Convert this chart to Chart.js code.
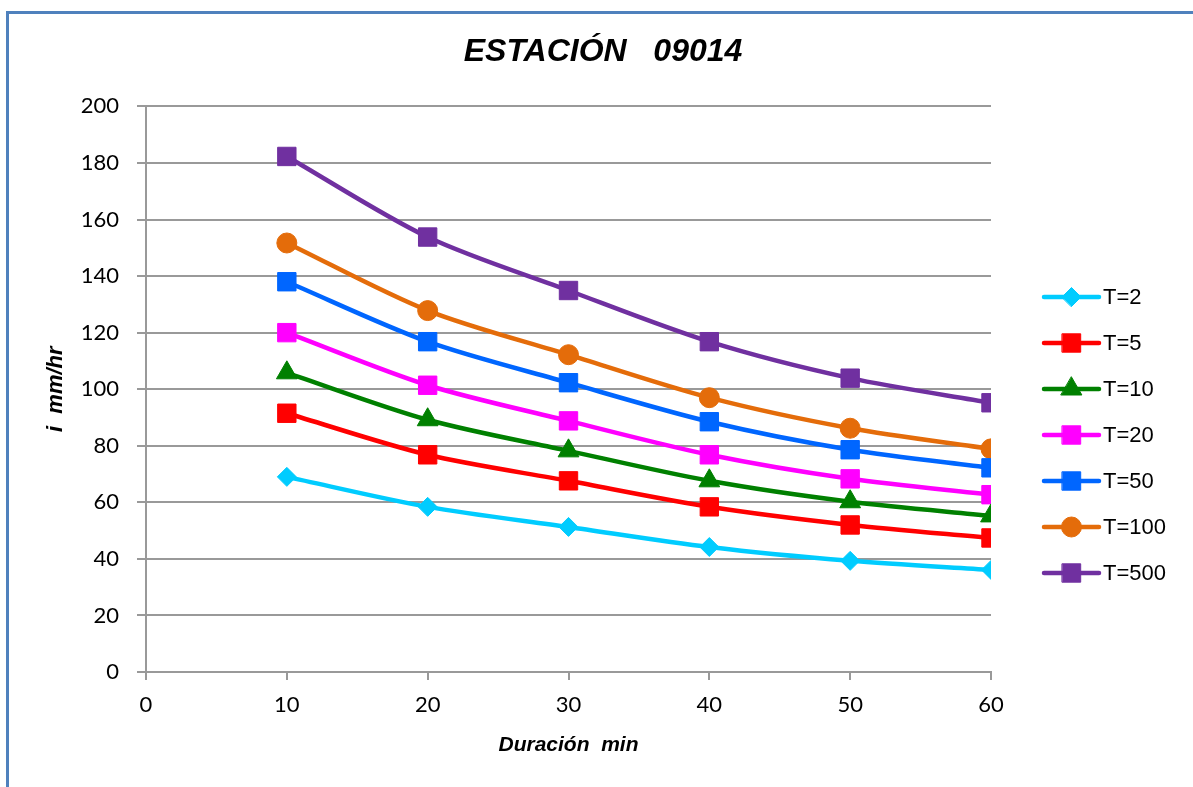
<!DOCTYPE html>
<html>

<head>
    <title>Estación 09014</title>
    <style>
        html,
        body {
            margin: 0;
            padding: 0;
            background-color: #fff;
        }

        #wrap {
            position: relative;
            width: 1193px;
            height: 787px;
            overflow: hidden;
        }

        #frame {
            position: absolute;
            left: 6px;
            top: 11px;
            width: 1400px;
            height: 1000px;
            border-left: 3px solid #4f81bd;
            border-top: 3px solid #4f81bd;
        }

        #chart {
            position: absolute;
            left: 0;
            top: 0;
        }
    </style>
</head>

<body>
    <div id="wrap">
        <div id="frame"></div>
        <canvas id="chart" width="1193" height="787"></canvas>
    </div>
    <script src="https://cdn.jsdelivr.net/npm/chart.js"></script>
    <script>
        const durations = [10, 20, 30, 40, 50, 60];

        const t2 = [69.0, 58.4, 51.3, 44.2, 39.3, 36.1];
        const t5 = [91.5, 76.8, 67.6, 58.4, 52.0, 47.4];
        const t10 = [105.8, 89.2, 78.2, 67.6, 60.2, 55.2];
        const t20 = [120.0, 101.4, 88.8, 76.8, 68.3, 62.7];
        const t50 = [138.0, 116.8, 102.3, 88.5, 78.6, 72.2];
        const t100 = [151.7, 127.8, 112.2, 97.0, 86.2, 78.9];
        const t500 = [182.3, 153.8, 134.9, 116.8, 103.9, 95.2];

        const seriesNames = ['T=2', 'T=5', 'T=10', 'T=20', 'T=50', 'T=100', 'T=500'];
        const seriesValues = [t2, t5, t10, t20, t50, t100, t500];
        const seriesColors = ['#00ccff', '#ff0000', '#008000', '#ff00ff', '#0066ff', '#e46c0a', '#7030a0'];
        const seriesMarkers = ['rectRot', 'rect', 'triangle', 'rect', 'rect', 'circle', 'rect'];

        const markerRadius = { rectRot: 9.5, rect: 13, triangle: 12, circle: 10 };

        const arial = "'Liberation Sans', Arial, sans-serif";

        const datasets = seriesNames.map((name, i) => ({
            label: name,
            data: durations.map((d, j) => ({ x: d, y: seriesValues[i][j] })),
            borderColor: seriesColors[i],
            backgroundColor: seriesColors[i],
            borderWidth: 4.5,
            pointStyle: seriesMarkers[i],
            pointRadius: markerRadius[seriesMarkers[i]],
            pointBorderWidth: 1,
            tension: 0.3,
        }));

        // legend drawn as line + marker, like the spreadsheet one
        const lineLegend = {
            id: 'lineLegend',
            afterDraw(chart) {
                const ctx = chart.ctx;
                const x0 = 1044, x1 = 1099, top = 297, step = 46;
                chart.data.datasets.forEach((ds, i) => {
                    const y = top + i * step;
                    ctx.save();
                    ctx.strokeStyle = ds.borderColor;
                    ctx.lineWidth = ds.borderWidth;
                    ctx.lineCap = 'round';
                    ctx.beginPath();
                    ctx.moveTo(x0, y);
                    ctx.lineTo(x1, y);
                    ctx.stroke();
                    ctx.fillStyle = ds.backgroundColor;
                    ctx.lineWidth = 1;
                    Chart.helpers.drawPoint(ctx, {
                        pointStyle: ds.pointStyle,
                        radius: ds.pointRadius,
                        rotation: 0,
                        borderWidth: 1,
                    }, (x0 + x1) / 2, y);
                    ctx.fillStyle = '#000';
                    ctx.font = `22px ${arial}`;
                    ctx.textBaseline = 'middle';
                    ctx.textAlign = 'left';
                    ctx.fillText(ds.label, x1 + 4, y + 1);
                    ctx.restore();
                });
            }
        };

        new Chart(document.getElementById('chart'), {
            type: 'line',
            data: { datasets },
            options: {
                responsive: false,
                animation: false,
                layout: { padding: { left: 13, top: 0, right: 0, bottom: 0 } },
                plugins: {
                    legend: { display: false },
                    tooltip: { enabled: false },
                    title: {
                        display: true,
                        text: 'ESTACIÓN   09014',
                        color: '#000',
                        font: { family: arial, size: 32, weight: 'bold', style: 'italic' },
                        padding: { top: 33, bottom: 35 },
                    },
                },
                scales: {
                    x: {
                        type: 'linear',
                        min: 0,
                        max: 60,
                        ticks: {
                            stepSize: 10,
                            color: '#000',
                            padding: 12,
                            font: { family: 'Lato', size: 22 },
                        },
                        grid: {
                            drawOnChartArea: false,
                            color: '#999',
                            lineWidth: 2,
                            tickLength: 8,
                        },
                        border: { color: '#999', width: 2 },
                        title: {
                            display: true,
                            text: 'Duración  min',
                            color: '#000',
                            font: { family: arial, size: 21, weight: 'bold', style: 'italic' },
                            padding: { top: 0, bottom: 29 },
                        },
                        afterFit(scale) { scale.height = 115; },
                    },
                    y: {
                        min: 0,
                        max: 200,
                        ticks: {
                            stepSize: 20,
                            color: '#000',
                            padding: 18,
                            font: { family: 'Lato', size: 22 },
                        },
                        grid: {
                            color: '#999',
                            lineWidth: 2,
                            tickLength: 9,
                        },
                        border: { color: '#999', width: 2 },
                        title: {
                            display: true,
                            text: 'i  mm/hr',
                            color: '#000',
                            font: { family: arial, size: 22, weight: 'bold', style: 'italic' },
                            padding: { top: 30, bottom: 0 },
                        },
                        afterFit(scale) { scale.width = 133; },
                    },
                    // empty right axis: keeps room for the legend
                    legendRoom: {
                        type: 'linear',
                        position: 'right',
                        min: 0,
                        max: 1,
                        grid: { display: false },
                        ticks: { display: false },
                        border: { display: false },
                        afterFit(scale) { scale.width = 202; },
                    },
                },
            },
            plugins: [lineLegend],
        });
    </script>
</body>

</html>
